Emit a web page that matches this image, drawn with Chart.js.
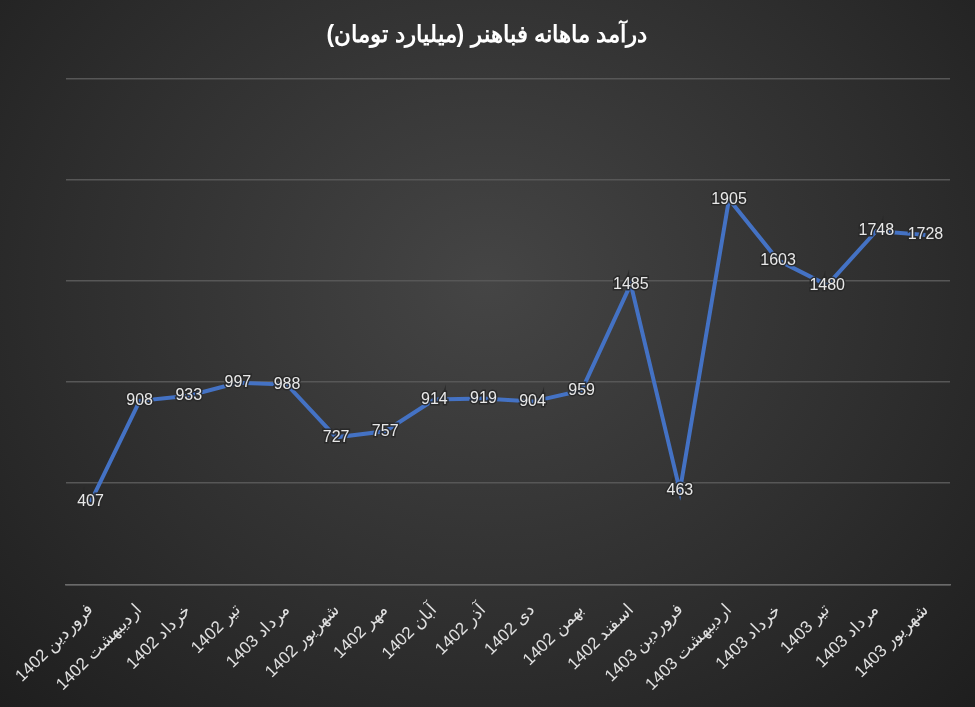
<!DOCTYPE html>
<html><head><meta charset="utf-8">
<script src="https://cdn.jsdelivr.net/npm/chart.js@4"></script>
<style>
html,body{margin:0;padding:0;}
body{width:975px;height:707px;background:radial-gradient(ellipse at 50% 40%,#454545 0%,#2e2e2e 60%,#1e1e1e 100%);}
#w{position:absolute;left:0;top:0;width:975px;height:707px;}
</style></head><body>
<div id="w"><canvas id="c" width="975" height="707"></canvas></div>
<script>
const months = ["فروردین 1402","اردیبهشت 1402","خرداد 1402","تیر 1402","مرداد 1403","شهریور 1402","مهر 1402","آبان 1402","آذر 1402","دی 1402","بهمن 1402","اسفند 1402","فروردین 1403","اردیبهشت 1403","خرداد 1403","تیر 1403","مرداد 1403","شهریور 1403"];
const revenue = [407,908,933,997,988,727,757,914,919,904,959,1485,463,1905,1603,1480,1748,1728];
const titleText = "درآمد ماهانه فباهنر (میلیارد تومان)";
const F = "'Liberation Sans', Arial, sans-serif";
const plug = {
  id:'extras',
  afterDatasetsDraw(chart){
    const ctx = chart.ctx; const meta = chart.getDatasetMeta(0);
    ctx.save();
    ctx.font = "16px "+F; ctx.textAlign='center'; ctx.textBaseline='middle';
    meta.data.forEach((p,i)=>{
      ctx.lineWidth=3; ctx.strokeStyle='rgba(40,40,40,0.9)';
      ctx.strokeText(String(revenue[i]),p.x,p.y);
      ctx.fillStyle='#e8e8e8'; ctx.fillText(String(revenue[i]),p.x,p.y);
    });
    ctx.font = "bold 23px "+F; ctx.fillStyle='#ffffff';
    ctx.fillText(titleText, 487, 36);
    ctx.restore();
  }
};
new Chart(document.getElementById('c'),{
  type:'line',
  data:{labels:months,datasets:[{data:revenue,borderColor:'#4472C4',borderWidth:4,pointRadius:0,tension:0,fill:false}]},
  options:{
    responsive:false,animation:false,
    layout:{padding:{top:79,left:66,right:25,bottom:4}},
    plugins:{legend:{display:false},tooltip:{enabled:false}},
    scales:{
      x:{offset:true,grid:{display:false},border:{color:'#6a6a6a',width:1.5},
         ticks:{color:'#e0e0e0',font:{family:F,size:17},minRotation:45,maxRotation:45,autoSkip:false,padding:8}},
      y:{min:0,max:2500,ticks:{display:false,stepSize:500},border:{display:false},
         grid:{color:'#575757',lineWidth:1.5,drawTicks:false}}
    }
  },
  plugins:[plug]
});
</script></body></html>
